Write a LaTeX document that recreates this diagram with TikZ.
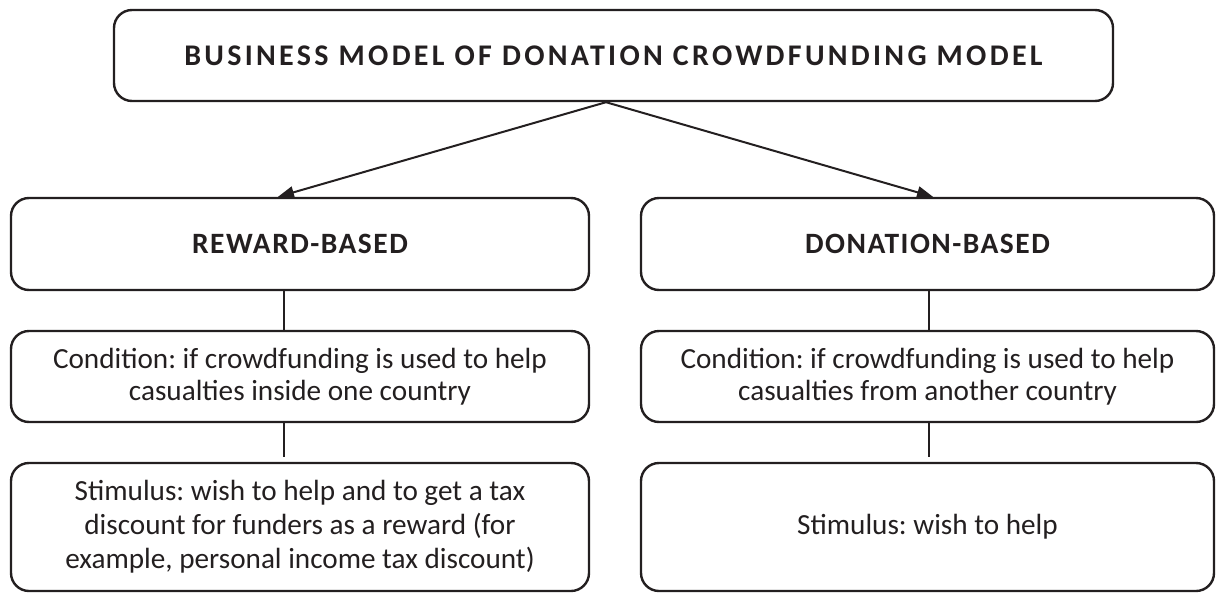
\documentclass[tikz,border=0pt]{standalone}
\usepackage{fontspec}
\setmainfont{Carlito}
\newfontfamily\titlefont[LetterSpace=11]{Carlito}
\newfontfamily\headfont[LetterSpace=5]{Carlito}
\usetikzlibrary{arrows.meta,calc}
\definecolor{linec}{HTML}{231F20}
\frenchspacing
\begin{document}
\begin{tikzpicture}[x=1pt,y=-1pt,
  box/.style={draw=linec, line width=2.4pt, rounded corners=18pt, align=center, inner sep=0pt, text=linec},
  bodytext/.style={font=\frenchspacing\fontsize{29.2}{32}\selectfont},
  conn/.style={draw=linec, line width=2pt},
  arr/.style={conn, -{Triangle[length=16pt,width=12pt]}}]
\useasboundingbox (0,0) rectangle (1216,592);
\node[box, minimum width=999pt, minimum height=91pt, font=\titlefont\bfseries\fontsize{30}{32}\selectfont] (top) at (613.5,55.5) {BUSINESS MODEL OF DONATION CROWDFUNDING MODEL};
\node[box, minimum width=578pt, minimum height=92pt, font=\headfont\bfseries\fontsize{29.5}{32}\selectfont] (reward) at (300,244) {REWARD-BASED};
\node[box, minimum width=573pt, minimum height=92pt, font=\headfont\bfseries\fontsize{29.5}{32}\selectfont] (donation) at (927.5,244) {DONATION-BASED};
\node[box, bodytext, minimum width=578pt, minimum height=91pt] (condL) at (300,376.5) {Condition: if crowdfunding is used to help\\casualties inside one country};
\node[box, bodytext, minimum width=573pt, minimum height=91pt] (condR) at (927.5,376.5) {Condition: if crowdfunding is used to help\\casualties from another country};
\node[box, minimum width=578pt, minimum height=128pt, font=\frenchspacing\fontsize{29.2}{34}\selectfont] (stimL) at (300,527) {Stimulus: wish to help and to get a tax\\discount for funders as a reward (for\\example, personal income tax discount)};
\node[box, bodytext, minimum width=573pt, minimum height=128pt] (stimR) at (927.5,527) {Stimulus: wish to help};
\coordinate (src) at ($(top.south)+(-7.5,0)$);
\coordinate (tipL) at ($(reward.north)+(-22,0)$);
\coordinate (tipR) at ($(donation.north)+(5.5,0)$);
\draw[arr] (src) -- (tipL);
\draw[arr] (src) -- (tipR);
\draw[conn] ($(reward.south)+(-16,0)$) -- ($(condL.north)+(-16,0)$);
\draw[conn, shorten >=5pt] ($(condL.south)+(-16,0)$) -- ($(stimL.north)+(-16,0)$);
\draw[conn] ($(donation.south)+(1.5,0)$) -- ($(condR.north)+(1.5,0)$);
\draw[conn, shorten >=5pt] ($(condR.south)+(1.5,0)$) -- ($(stimR.north)+(1.5,0)$);
\end{tikzpicture}
\end{document}
